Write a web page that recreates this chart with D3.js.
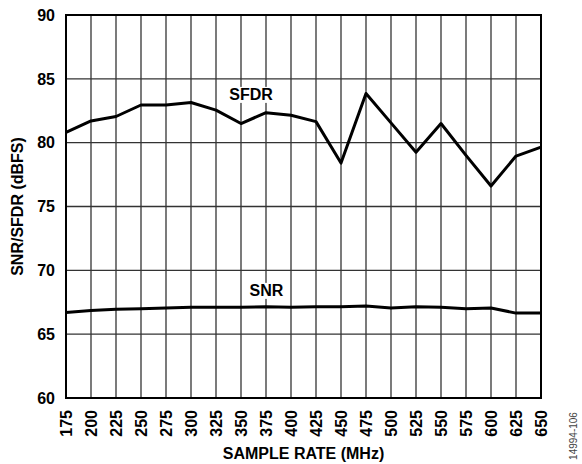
<!DOCTYPE html>
<html>
<head>
<meta charset="utf-8">
<script src="https://cdn.jsdelivr.net/npm/d3@7"></script>
<style>
    body { margin: 0; background: #fff; }
    text { font-family: "Liberation Sans", Arial, sans-serif; }
</style>
</head>
<body>
<div id="chart"></div>
<script>
// sample rate in MHz
const sampleRates = [175, 200, 225, 250, 275, 300, 325, 350, 375, 400, 425, 450, 475, 500, 525, 550, 575, 600, 625, 650];
const sfdrValues = [80.8, 81.7, 82.05, 82.95, 82.95, 83.15, 82.55, 81.5, 82.35, 82.15, 81.65, 78.4, 83.85, 81.55, 79.25, 81.5, 79.0, 76.6, 78.95, 79.65];
const snrValues = [66.7, 66.85, 66.95, 67.0, 67.05, 67.1, 67.1, 67.1, 67.15, 67.1, 67.15, 67.15, 67.2, 67.05, 67.15, 67.1, 67.0, 67.05, 66.65, 66.65];
const yTicks = [60, 65, 70, 75, 80, 85, 90];

var width = 582, height = 464;
var margin = { top: 15, right: 41, bottom: 66, left: 66 };

var svg = d3.select('#chart').append('svg')
            .attr('width', width)
            .attr('height', height);

var x = d3.scaleLinear()
          .domain([175, 650])
          .range([margin.left, width - margin.right]);

var y = d3.scaleLinear()
          .domain([60, 90])
          .range([height - margin.bottom, margin.top]);

// grid
svg.selectAll('line.vgrid')
   .data(sampleRates)
   .enter().append('line')
   .attr('class', 'vgrid')
   .attr('x1', d => x(d)).attr('x2', d => x(d))
   .attr('y1', y(60)).attr('y2', y(90))
   .attr('stroke', '#333')
   .attr('stroke-width', 1.3);

svg.selectAll('line.hgrid')
   .data(yTicks)
   .enter().append('line')
   .attr('class', 'hgrid')
   .attr('x1', x(175)).attr('x2', x(650))
   .attr('y1', d => y(d)).attr('y2', d => y(d))
   .attr('stroke', '#333')
   .attr('stroke-width', 1.3);

// frame
svg.append('rect')
   .attr('x', x(175)).attr('y', y(90))
   .attr('width', x(650) - x(175))
   .attr('height', y(60) - y(90))
   .attr('fill', 'none')
   .attr('stroke', '#000')
   .attr('stroke-width', 2);

// tick labels
svg.selectAll('text.ylab')
   .data(yTicks)
   .enter().append('text')
   .attr('class', 'ylab')
   .attr('x', x(175) - 11)
   .attr('y', d => y(d))
   .attr('dy', '0.36em')
   .attr('text-anchor', 'end')
   .style('font-size', '16px')
   .style('font-weight', 'bold')
   .text(d => d);

svg.selectAll('text.xlab')
   .data(sampleRates)
   .enter().append('text')
   .attr('class', 'xlab')
   .attr('transform', d => `translate(${x(d) + 6},${y(60) + 12}) rotate(-90)`)
   .attr('text-anchor', 'end')
   .style('font-size', '16px')
   .style('font-weight', 'bold')
   .text(d => d);

// lines
var line = d3.line()
             .x((d, i) => x(sampleRates[i]))
             .y(d => y(d));

svg.append('path')
   .datum(sfdrValues)
   .attr('d', line)
   .attr('fill', 'none')
   .attr('stroke', '#000')
   .attr('stroke-width', 3)
   .attr('stroke-linejoin', 'round');

svg.append('path')
   .datum(snrValues)
   .attr('d', line)
   .attr('fill', 'none')
   .attr('stroke', '#000')
   .attr('stroke-width', 3)
   .attr('stroke-linejoin', 'round');

// series labels with white boxes
function seriesLabel(txt, cx, cy) {
    var g = svg.append('g');
    var t = g.append('text')
             .attr('x', cx).attr('y', cy)
             .attr('text-anchor', 'middle')
             .style('font-size', '16px')
             .style('font-weight', 'bold')
             .text(txt);
    var b = t.node().getBBox();
    g.insert('rect', 'text')
     .attr('x', b.x - 2).attr('y', b.y + 1)
     .attr('width', b.width + 4).attr('height', b.height - 1)
     .attr('fill', '#fff');
}
seriesLabel('SFDR', x(360), y(83.35));
seriesLabel('SNR', x(375.5), y(68.0));

// axis titles
svg.append('text')
   .attr('x', (x(175) + x(650)) / 2)
   .attr('y', 459)
   .attr('text-anchor', 'middle')
   .style('font-size', '16px')
   .style('font-weight', 'bold')
   .text('SAMPLE RATE (MHz)');

svg.append('text')
   .attr('transform', `translate(23,${(y(60) + y(90)) / 2}) rotate(-90)`)
   .attr('text-anchor', 'middle')
   .style('font-size', '16px')
   .style('font-weight', 'bold')
   .text('SNR/SFDR (dBFS)');

svg.append('text')
   .attr('transform', 'translate(577,436) rotate(-90)')
   .attr('text-anchor', 'middle')
   .style('font-size', '10px')
   .attr('fill', '#444')
   .text('14994-106');
</script>
</body>
</html>
